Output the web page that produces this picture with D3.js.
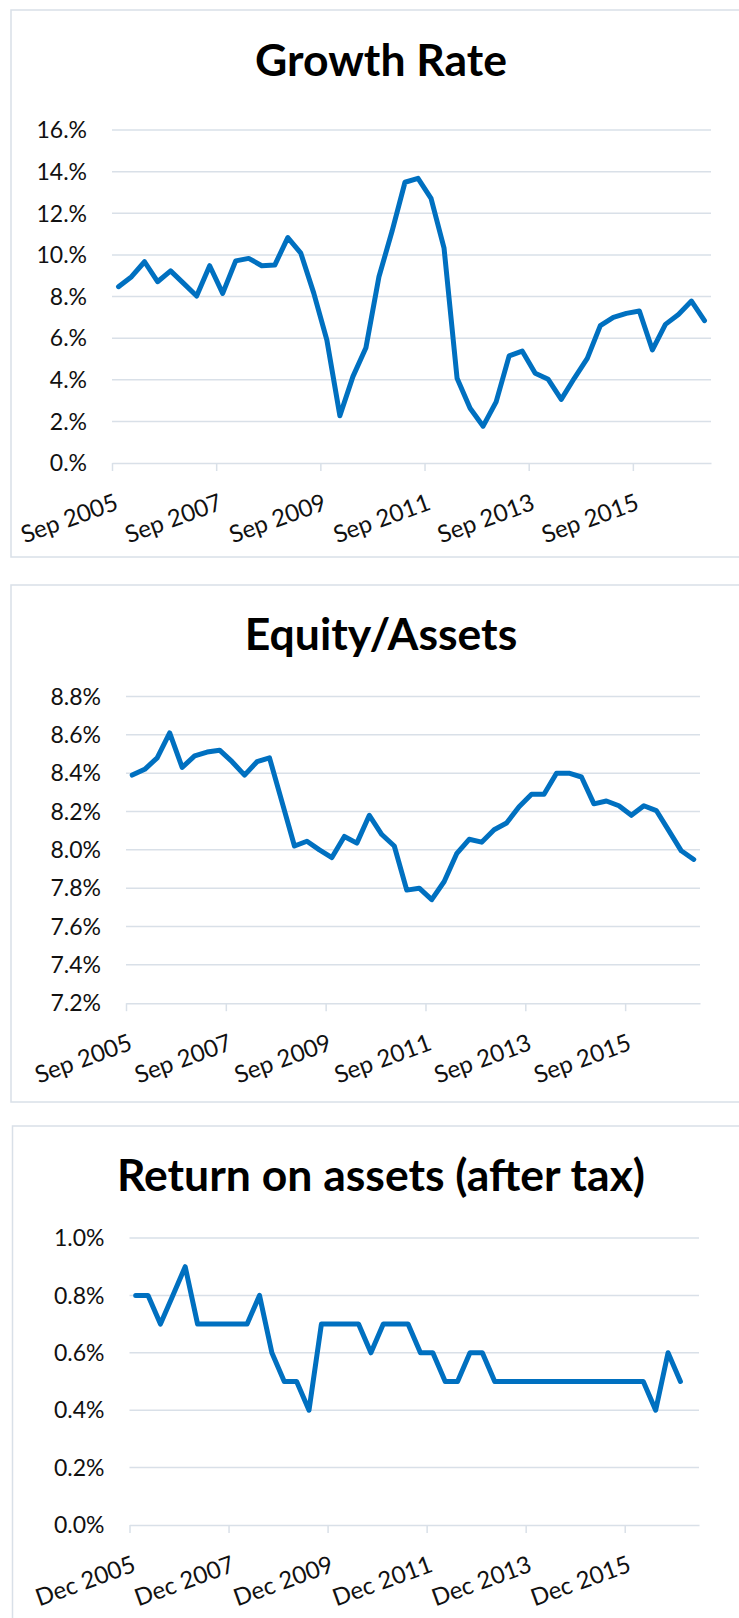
<!DOCTYPE html>
<html>
<head>
<meta charset="utf-8">
<script src="https://cdn.jsdelivr.net/npm/d3@7"></script>
<style>
  body { margin: 0; background: #fff; }
  svg { display: block; font-family: Lato, "Noto Sans", sans-serif; }
</style>
</head>
<body>
<svg id="chart" width="739" height="1618"></svg>
<script>
// quarterly categories
const quartersSep = ["Sep 2005","Dec 2005","Mar 2006","Jun 2006","Sep 2006","Dec 2006","Mar 2007","Jun 2007",
  "Sep 2007","Dec 2007","Mar 2008","Jun 2008","Sep 2008","Dec 2008","Mar 2009","Jun 2009",
  "Sep 2009","Dec 2009","Mar 2010","Jun 2010","Sep 2010","Dec 2010","Mar 2011","Jun 2011",
  "Sep 2011","Dec 2011","Mar 2012","Jun 2012","Sep 2012","Dec 2012","Mar 2013","Jun 2013",
  "Sep 2013","Dec 2013","Mar 2014","Jun 2014","Sep 2014","Dec 2014","Mar 2015","Jun 2015",
  "Sep 2015","Dec 2015","Mar 2016","Jun 2016","Sep 2016","Dec 2016"];
const quartersDec = ["Dec 2005","Mar 2006","Jun 2006","Sep 2006","Dec 2006","Mar 2007","Jun 2007","Sep 2007",
  "Dec 2007","Mar 2008","Jun 2008","Sep 2008","Dec 2008","Mar 2009","Jun 2009","Sep 2009",
  "Dec 2009","Mar 2010","Jun 2010","Sep 2010","Dec 2010","Mar 2011","Jun 2011","Sep 2011",
  "Dec 2011","Mar 2012","Jun 2012","Sep 2012","Dec 2012","Mar 2013","Jun 2013","Sep 2013",
  "Dec 2013","Mar 2014","Jun 2014","Sep 2014","Dec 2014","Mar 2015","Jun 2015","Sep 2015",
  "Dec 2015","Mar 2016","Jun 2016","Sep 2016","Dec 2016","Mar 2017"];

// series (percent)
const growthRate = [8.47, 8.95, 9.67, 8.71, 9.23, 8.63, 8.02, 9.48, 8.15, 9.71, 9.83, 9.48, 9.51, 10.83, 10.08, 8.15,
  5.91, 2.27, 4.15, 5.54, 8.95, 11.12, 13.49, 13.68, 12.72, 10.32, 4.07, 2.63, 1.77, 2.94, 5.15, 5.38,
  4.31, 4.02, 3.06, 4.07, 5.03, 6.60, 7.00, 7.19, 7.30, 5.43, 6.66, 7.14, 7.78, 6.84];
const equityAssets = [8.39, 8.42, 8.48, 8.61, 8.43, 8.49, 8.51, 8.52, 8.46, 8.39, 8.46, 8.48, 8.25, 8.02, 8.045, 8.0,
  7.96, 8.07, 8.035, 8.18, 8.08, 8.02, 7.79, 7.80, 7.74, 7.835, 7.98, 8.055, 8.04, 8.105, 8.14, 8.225,
  8.29, 8.29, 8.40, 8.40, 8.38, 8.24, 8.255, 8.23, 8.18, 8.23, 8.205, 8.10, 7.995, 7.95];
const returnOnAssets = [0.8, 0.8, 0.7, 0.8, 0.9, 0.7, 0.7, 0.7, 0.7, 0.7, 0.8, 0.6, 0.5, 0.5, 0.4, 0.7,
  0.7, 0.7, 0.7, 0.6, 0.7, 0.7, 0.7, 0.6, 0.6, 0.5, 0.5, 0.6, 0.6, 0.5, 0.5, 0.5,
  0.5, 0.5, 0.5, 0.5, 0.5, 0.5, 0.5, 0.5, 0.5, 0.5, 0.4, 0.6, 0.5, null];

// tick labels
const growthTicks = [0, 2, 4, 6, 8, 10, 12, 14, 16];
const growthTickLabels = ["0.%", "2.%", "4.%", "6.%", "8.%", "10.%", "12.%", "14.%", "16.%"];
const equityTicks = [7.2, 7.4, 7.6, 7.8, 8.0, 8.2, 8.4, 8.6, 8.8];
const equityTickLabels = ["7.2%", "7.4%", "7.6%", "7.8%", "8.0%", "8.2%", "8.4%", "8.6%", "8.8%"];
const roaTicks = [0, 0.2, 0.4, 0.6, 0.8, 1.0];
const roaTickLabels = ["0.0%", "0.2%", "0.4%", "0.6%", "0.8%", "1.0%"];
const xTickIndex = [0, 8, 16, 24, 32, 40];

const panels = [
  { title: "Growth Rate", cats: quartersSep, values: growthRate, ticks: growthTicks, tickLabels: growthTickLabels,
    box: [11, 10, 547], titleY: 76,
    plot: { x0: 112, x1: 711, yTop: 130, yBot: 463 } },
  { title: "Equity/Assets", cats: quartersSep, values: equityAssets, ticks: equityTicks, tickLabels: equityTickLabels,
    box: [11, 585, 517], titleY: 650,
    plot: { x0: 126, x1: 700, yTop: 696.5, yBot: 1003.2 } },
  { title: "Return on assets (after tax)", cats: quartersDec, values: returnOnAssets, ticks: roaTicks, tickLabels: roaTickLabels,
    box: [12.5, 1126, 600], titleY: 1191,
    plot: { x0: 129.5, x1: 699, yTop: 1238, yBot: 1525 } }
];

const svg = d3.select("#chart");
const gridColor = "#d9e0e8";
const lineColor = "#0070c0";

panels.forEach(p => {
  const g = svg.append("g");

  g.append("rect")
    .attr("x", p.box[0]).attr("y", p.box[1])
    .attr("width", 800).attr("height", p.box[2])
    .attr("fill", "none").attr("stroke", gridColor).attr("stroke-width", 1.5);

  g.append("text")
    .attr("x", 381).attr("y", p.titleY)
    .attr("text-anchor", "middle")
    .style("font-weight", "bold").style("font-size", "44.5px")
    .attr("fill", "#000")
    .text(p.title);

  const y = d3.scaleLinear()
    .domain(d3.extent(p.ticks))
    .range([p.plot.yBot, p.plot.yTop]);
  const x = d3.scaleLinear()
    .domain([0, p.cats.length])
    .range([p.plot.x0, p.plot.x1]);

  // gridlines
  g.append("g").selectAll("line")
    .data(p.ticks.slice(1))
    .join("line")
    .attr("x1", p.plot.x0).attr("x2", p.plot.x1)
    .attr("y1", d => y(d)).attr("y2", d => y(d))
    .attr("stroke", gridColor).attr("stroke-width", 1.5);

  // y labels
  g.append("g").selectAll("text")
    .data(p.ticks)
    .join("text")
    .attr("x", p.plot.x0 - 25)
    .attr("y", d => y(d))
    .attr("dy", "0.36em")
    .attr("text-anchor", "end")
    .style("font-size", "23px")
    .attr("fill", "#111")
    .text((d, i) => p.tickLabels[i]);

  // x axis
  const xAxis = g.append("g")
    .attr("transform", `translate(0,${p.plot.yBot})`)
    .call(d3.axisBottom(x).tickValues(xTickIndex).tickSize(8).tickSizeOuter(0)
      .tickFormat(i => p.cats[i]));
  xAxis.select(".domain").attr("stroke", gridColor).attr("stroke-width", 1.5);
  xAxis.selectAll(".tick line").attr("stroke", gridColor).attr("stroke-width", 1.5);
  xAxis.selectAll(".tick text")
    .attr("x", 0).attr("y", 0).attr("dy", 0)
    .attr("text-anchor", "end")
    .attr("transform", "translate(7,46) rotate(-20)")
    .attr("fill", "#111")
    .style("font-family", "Lato, sans-serif")
    .style("font-size", "24px");

  // series line
  const line = d3.line()
    .defined(d => d != null)
    .x((d, i) => x(i + 0.5))
    .y(d => y(d));
  g.append("path")
    .datum(p.values)
    .attr("d", line)
    .attr("fill", "none")
    .attr("stroke", lineColor)
    .attr("stroke-width", 5)
    .attr("stroke-linejoin", "round")
    .attr("stroke-linecap", "round");
});
</script>
</body>
</html>
